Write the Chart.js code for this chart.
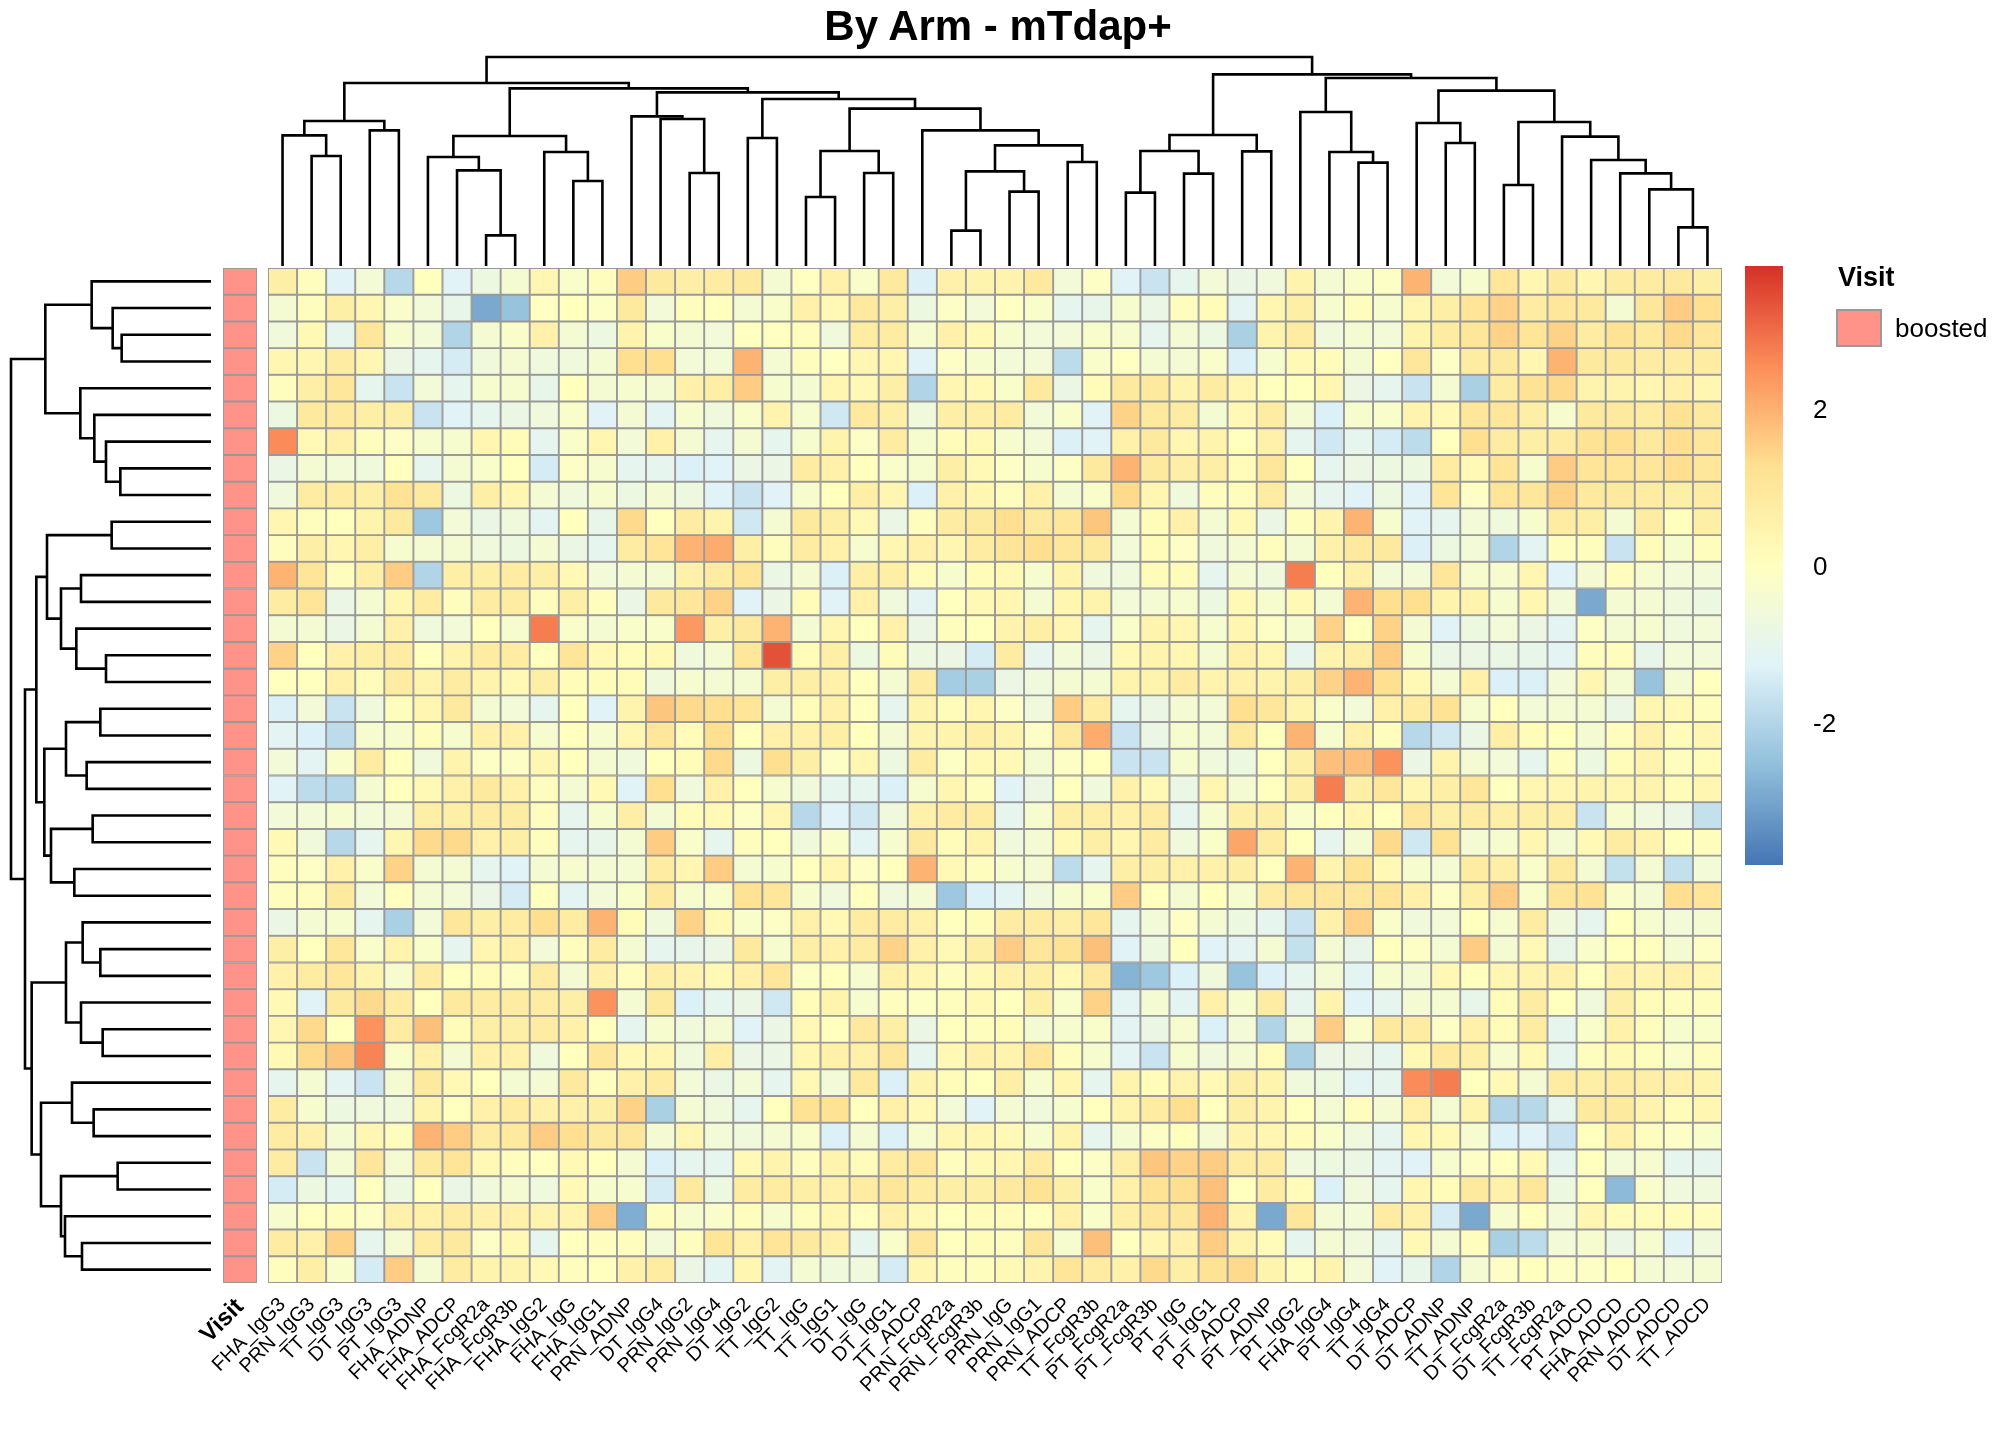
<!DOCTYPE html>
<html>
<head>
<meta charset="utf-8">
<script src="https://cdn.jsdelivr.net/npm/chart.js@4.4.1/dist/chart.umd.min.js"></script>
<style>
  body { margin: 0; background: #fff; }
  #page { position: relative; width: 2016px; height: 1440px; overflow: hidden; font-family: "Liberation Sans", Arial, sans-serif; }
  canvas { position: absolute; left: 0; top: 0; }
  #title { position: absolute; left: 0; width: 1996px; top: 2px; text-align: center; font-weight: bold; font-size: 42px; }
  #legTitle { position: absolute; left: 1838px; top: 262px; font-weight: bold; font-size: 27px; }
  #legBox { position: absolute; left: 1836px; top: 309px; width: 46px; height: 38px; background: #FF9289; border: 2px solid #999; box-sizing: border-box; }
  #legText { position: absolute; left: 1895px; top: 313px; font-size: 26px; }
</style>
</head>
<body>
<div id="page">
  <canvas id="heat" width="2016" height="1440"></canvas>
  <canvas id="annot" width="2016" height="1440"></canvas>
  <canvas id="topTree" width="2016" height="1440"></canvas>
  <canvas id="leftTree" width="2016" height="1440"></canvas>
  <canvas id="colorbar" width="2016" height="1440"></canvas>
  <div id="title">By Arm - mTdap+</div>
  <div id="legTitle">Visit</div>
  <div id="legBox"></div>
  <div id="legText">boosted</div>
</div>
<script>
// column labels, in dendrogram order
const colLabels = ['FHA_IgG3','PRN_IgG3','TT_IgG3','DT_IgG3','PT_IgG3','FHA_ADNP','FHA_ADCP','FHA_FcgR2a','FHA_FcgR3b','FHA_IgG2',
  'FHA_IgG','FHA_IgG1','PRN_ADNP','DT_IgG4','PRN_IgG2','PRN_IgG4','DT_IgG2','TT_IgG2','TT_IgG','TT_IgG1',
  'DT_IgG','DT_IgG1','TT_ADCP','PRN_FcgR2a','PRN_FcgR3b','PRN_IgG','PRN_IgG1','PRN_ADCP','TT_FcgR3b','PT_FcgR2a',
  'PT_FcgR3b','PT_IgG','PT_IgG1','PT_ADCP','PT_ADNP','PT_IgG2','FHA_IgG4','PT_IgG4','TT_IgG4','DT_ADCP',
  'DT_ADNP','TT_ADNP','DT_FcgR2a','DT_FcgR3b','TT_FcgR2a','PT_ADCD','FHA_ADCD','PRN_ADCD','DT_ADCD','TT_ADCD'];

// scaled values, one array per sample row (top to bottom)
const heat = [
 [0.7,0.1,-1.2,-0.5,-1.9,0.05,-1.2,-0.7,-0.4,0.4,-0.2,0.1,1.6,0.9,0.7, 0.8,0.9,-0.4,0,0.6,-0.2,0.9,-1.3,0.6,0.5,0.5,0.9,-0.5,-0.1,-1.2,-1.6,-1.0,-0.5, -0.8,-0.6,0.5,-0.4,-0.2,-0.1,2.0,-0.5,-0.3,1.0,0.4,0.9,0.4,0.8,0.8,0.9,0.7],
 [-0.4,0.1,0.7,0.4,-0.2,-0.5,-0.9,-2.9,-2.4,0,0.05,-0.1,0.9,-0.5,0.1, 0.05,-0.4,-0.2,0.6,0.3,0.9,0.7,-0.7,-0.1,-0.5,0,-0.2,-1.0,-0.9,-0.3,-0.8,0.1,0.2, -1.1,0.4,0.7,-0.3,0.1,-0.3,0.4,0.7,1.1,1.5,0.8,1.0,0.9,-0.4,1.0,1.6,1.3],
 [-0.6,0.3,-1.0,1.0,-0.3,-0.5,-2.0,-0.4,-0.2,0.6,-0.4,-0.7,0.5,-0.2,-0.4, -0.5,0,0,0.1,-0.6,0.8,0.8,-0.3,0.6,0.3,-0.3,-0.5,-0.5,-0.2,-0.3,-1.0,-0.4,-0.7, -2.1,0.5,0.8,-0.6,-0.4,-0.5,0.5,0.8,1.0,1.5,1.1,1.5,0.8,1.2,0.9,1.4,1.0],
 [0.4,0.4,0.8,0.4,-0.8,-1.0,-1.4,-0.6,-0.4,-0.6,-0.6,-0.4,1.3,1.3,-0.5, -0.5,2.0,-0.4,0.1,0,0.4,0.4,-1.2,-0.1,-0.3,-0.5,-0.5,-1.8,-0.2,0,-0.4,-0.4,-0.2, -1.3,-0.3,0.3,0.2,-0.4,0,1.0,-0.1,0.8,0.9,0.4,2.0,0.9,0.9,0.8,0.8,0.8],
 [0.1,0.7,1.0,-1.0,-1.6,-0.5,-1.0,-0.3,-0.3,-0.9,0.05,-0.4,-0.3,-0.4,0.6, 0.7,1.6,-0.3,-0.4,0.4,0.3,0.7,-2.0,0.4,0.3,-0.2,0.9,-0.8,0.2,0.9,0.9,0.5,0.8, 0.4,0.05,0.05,0.4,-0.8,-1.0,-1.6,-0.4,-2.1,0.8,1.2,1.4,0.5,0.5,0.4,0.6,0.4],
 [-0.7,0.9,0.9,0.7,0.7,-1.6,-1.2,-1.0,-0.8,-0.6,-0.2,-1.2,-0.4,-1.1,-0.3, -0.6,-0.2,0.5,-0.3,-1.5,0.9,0.7,-0.6,0.7,0.7,0.8,-0.5,-0.2,-1.2,1.5,0.9,0.8,-0.4, 0.3,0.8,-0.4,-1.3,-0.3,-0.2,0.5,0.3,1.0,1.0,0.7,-0.3,0.9,0.9,0.8,1.2,0.9],
 [2.6,0.3,0.6,0.1,-0.1,-0.3,-0.3,0.4,0.2,-1.0,-0.2,0.4,-0.5,0.6,-0.4, -1.0,-0.4,-1.0,-0.3,0.5,-0.1,0.8,-0.3,0.2,0.3,-0.3,-0.5,-1.3,-1.2,0.6,0.9,0.4,0.5, 0.05,0.6,-1.0,-1.5,-1.0,-1.4,-1.8,0.05,1.3,0.8,0.7,0.8,1.2,1.3,0.9,1.3,1.0],
 [-0.8,-0.4,-0.5,-0.6,0.05,-1.0,-0.4,-0.2,0.05,-1.4,-0.1,-0.3,-1.0,-1.0,-1.3, -1.2,-0.8,-0.8,0.8,0.6,0.05,-0.2,-0.3,0.7,0.3,-0.1,-0.3,-0.1,0.9,2.0,0.9,0.7,0.7, 0.2,1.0,0.05,-1.0,-0.8,-0.7,-0.7,0.8,0.3,1.1,-0.3,1.6,1.1,1.1,1.0,1.3,1.0],
 [-0.6,0.8,0.8,0.7,1.2,0.9,-0.7,0.7,0.4,-0.4,-0.6,-0.3,-0.7,-0.4,-0.7, -1.2,-1.6,-1.2,-0.3,0.05,0.7,0.4,-1.3,0.6,0.4,0.1,0.6,-0.4,-0.2,1.4,0.4,-0.6,0.1, 0.1,0.8,-0.5,-1.0,-1.2,-0.7,-1.2,1.1,-0.1,1.1,1.0,1.5,0.9,0.9,0.8,0.7,0.8],
 [0.4,0.1,0.05,0.5,0.9,-2.3,-0.5,-0.8,-0.6,-1.1,0.05,-0.9,1.4,0.05,0.8, 0.5,-1.5,-0.4,0.9,0.7,0.3,-0.8,0.1,0.8,0.9,1.3,0.9,1.0,1.7,-0.4,0.2,0.6,-0.4, 0.3,-0.8,0.1,0.5,2.0,-0.3,-1.2,-1.0,-0.5,-0.6,-0.3,0.8,0.7,-0.4,0.8,0.05,0.7],
 [0.1,0.7,0.4,0.7,-0.3,-0.4,-0.4,-0.6,-0.7,-0.4,-0.8,-1.0,0.8,1.1,2.0, 2.1,0.7,0.1,0.8,0.6,-0.3,0.4,0.6,0.4,0.8,1.1,1.3,1.0,0.9,-0.5,0.2,-0.1,-0.6, -0.4,0.1,-0.4,0.6,0.9,0.9,-1.3,-0.7,-0.5,-2.0,-1.1,0.1,0.1,-1.6,0.2,-0.3,0.1],
 [2.0,1.1,0.1,0.7,1.6,-2.0,0.7,0.7,0.8,0.7,0.3,-0.5,-0.4,-0.4,0.6, 0.8,1.1,-0.8,-0.4,-1.3,0.7,0.7,0.2,-0.3,0.2,0.3,-0.3,0.5,-0.6,-0.6,0.2,0.2,-1.0, -0.4,-0.6,2.8,0.05,0.6,-0.5,-0.5,1.0,-0.3,-0.3,0.4,-1.2,-0.4,0.1,-0.3,-0.5,-0.5],
 [0.8,1.1,-0.8,-0.4,0.4,0.8,0.1,0.8,0.8,0.1,0.7,0.1,-0.8,0.9,1.0, 1.5,-1.2,-0.8,0.2,-1.2,0.6,-0.6,-1.1,0.05,0.3,0.4,-0.4,0.4,0.5,-0.5,-0.4,-0.3,-0.7, 0.3,-0.3,0.3,-0.4,2.0,1.3,1.3,0.5,0.5,-0.3,0.4,-0.5,-2.9,-0.4,-0.4,-0.6,-0.7],
 [-0.4,-0.4,-0.8,-0.4,0.6,-0.6,-0.5,0.05,-0.3,2.8,-0.2,-0.4,-0.2,-0.2,2.4, 0.7,0.9,2.0,-0.4,0.4,0.05,0.6,-0.8,0.1,0.05,0.5,0.7,0.4,-1.0,-0.2,0.5,0.4,-0.3, 0.4,-0.1,-0.3,1.5,0.05,1.5,-0.4,-1.2,-0.7,-0.5,-0.8,-1.1,-0.1,-0.4,-0.3,-0.6,-0.5],
 [1.5,0.05,0.6,0.7,0.8,0.05,0.5,0.8,0.8,0.05,1.1,0.3,0.2,0.3,-0.6, -0.4,1.0,3.4,0.2,0.7,-0.7,0.2,-0.7,-0.8,-1.4,0.8,-1.0,-0.5,-0.8,0.3,0.5,0.4,-0.4, 0.6,0.4,-1.0,0.5,0.7,1.6,-0.3,-0.8,-0.8,-0.8,-0.9,-1.1,0.1,0.1,-0.9,-0.5,-0.5],
 [0.05,0.05,0.6,0.2,0.8,0.5,0.8,0.5,0.3,0.7,0.2,0.2,0.2,-0.6,-0.3, -0.4,-0.4,0.7,0.7,0.6,0.05,-0.4,0.8,-2.2,-2.1,-0.8,-0.6,-0.4,-0.4,0.5,0.5,0.8,0.5, 0.6,0.5,0.7,1.5,2.0,1.3,0.3,-0.4,0.6,-1.3,-1.3,-0.5,0.4,-0.4,-2.4,-0.4,0.05],
 [-1.3,-0.5,-1.6,-0.6,0.1,0.4,0.9,-0.4,-0.5,-1.0,0.05,-1.2,0.5,1.7,1.4, 1.3,1.1,-0.4,0.2,0.6,0.05,-1.0,0.5,0.2,0.4,-0.1,-0.6,1.6,0.8,-1.0,-0.8,-0.4,-0.5, 1.3,1.0,0.5,-0.2,-0.5,0.6,0.8,1.2,-0.3,0.05,-0.5,-0.4,-0.4,-0.8,0.4,0.3,0.1],
 [-1.1,-1.3,-1.8,-0.3,-0.3,0.1,-0.3,0.6,0.6,-0.3,0.05,-0.3,0.4,1.0,0.2, 1.3,0.05,0.6,0.6,0.7,0.05,-0.4,0.5,0.5,0.7,0.5,-0.1,0.9,2.1,-1.6,-0.8,-0.3,-0.5, 0.9,0.05,2.0,-0.3,0.6,0.1,-1.9,-1.5,-0.8,0.7,0.2,0.05,-0.4,0.1,0.6,0.2,0.4],
 [-0.5,-1.1,-0.2,0.8,0.05,-0.6,0.5,-0.1,-0.1,0.4,0.05,-0.4,-0.6,0.05,0.2, 1.4,-0.7,1.3,0.7,-0.1,0.4,-0.7,0.8,-0.05,0.3,0.3,-0.4,-0.1,0.05,-1.6,-1.6,-0.3,-0.6, -0.7,0.05,0.7,1.8,1.8,2.5,-0.8,0.5,-0.4,-0.5,-1.0,0.1,-0.7,0.2,0.5,0.1,0.2],
 [-1.2,-1.8,-1.9,-0.4,0.05,0.3,0.6,0.9,0.6,0.1,-0.4,0.3,-1.2,1.3,-0.6, 0.6,0.05,-0.3,-0.6,-1.0,-1.0,-1.3,-0.3,0.4,0.1,-1.2,-0.8,0.05,-0.6,0.6,0.3,-0.8,0.4, -0.4,0.05,0.7,2.8,0.7,1.0,0.4,0.7,1.0,0.05,0.4,0.4,0.5,0.4,0.5,0.2,0.4],
 [-0.5,-0.5,-0.3,-0.5,-0.4,0.7,0.7,0.8,0.8,0.1,-1.0,-0.3,0.7,-0.4,0.2, 0.3,-0.1,0.4,-1.9,-1.2,-1.5,-0.6,0.6,0.8,0.8,-1.0,-0.3,0.7,0.7,0.6,0.8,-1.0,-0.3, 0.7,0.7,-0.2,0.05,0.4,0.05,1.0,0.7,0.8,0.7,0.7,0.7,-1.6,-0.3,-0.6,-0.8,-1.7],
 [0.3,-0.6,-1.9,-1.0,0.4,1.4,1.4,0.6,0.7,0.1,-1.0,-0.9,-0.4,1.6,-0.2, -1.0,0.1,0.05,-0.6,-0.2,-1.1,-0.3,0.9,0.2,0.5,-0.6,-0.4,0.3,0.7,0.4,0.8,-0.6,-0.2, 2.2,0.8,0.05,-1.0,-0.4,1.4,-1.5,1.2,-0.4,-0.3,0.4,-0.4,0.3,0.8,0.5,0.05,0.1],
 [0.1,-0.1,0.6,-0.2,1.5,-0.4,-0.4,-1.0,-1.2,-0.4,-0.3,-0.4,-0.4,0.8,0.4, 1.6,-0.4,-0.3,0.05,0.4,-0.05,0.05,2.0,0.3,0.1,-0.3,-0.4,-1.8,-1.0,0.7,0.7,0.6,0.6, 0.7,0.05,2.0,0.5,1.2,0.3,-0.3,-0.4,0.8,0.7,-0.2,0.9,-0.4,-1.7,-0.4,-1.7,-0.5],
 [0.1,0.1,0.9,-0.5,0.05,-0.4,-0.5,-0.8,-1.4,0.05,-1.1,-0.5,-0.2,0.9,-0.3, -0.2,1.2,1.0,-0.3,-0.6,0.05,-0.6,-0.4,-2.3,-1.3,-1.1,-0.6,-0.3,-0.2,1.6,0.05,-0.4,0.05, -0.3,0.8,1.0,1.0,1.0,1.1,0.6,-0.1,0.7,1.6,-0.2,1.1,1.2,-0.2,-0.4,1.3,1.1],
 [-0.8,-0.4,-0.3,-1.0,-2.1,-0.5,1.0,0.7,0.8,1.3,0.8,2.0,0.2,-0.6,1.5, 0.3,-0.2,-0.1,0.6,0.3,0.8,0.8,0.6,0.05,0.2,0.8,0.8,0.7,1.0,-1.0,-0.5,-0.1,-0.4, -0.7,-1.0,-1.6,0.6,1.5,-0.2,-0.6,-0.5,0.05,-0.3,0.8,-0.6,-1.0,0.05,-0.3,-0.5,-0.4],
 [0.7,0.05,1.0,-0.2,0.5,-0.2,-1.0,0.4,0.6,-0.5,0.1,0.8,-0.4,-1.0,-0.9, -0.8,0.9,-0.3,0.7,0.6,0.8,1.5,0.6,0.3,0.7,1.6,1.0,1.2,1.8,-1.2,-0.7,0.05,-1.2, -1.1,-0.4,-1.7,-0.4,-0.9,0.05,-0.1,-0.4,1.6,-0.4,0.3,-0.9,-0.2,0.05,0.05,-0.4,-0.1],
 [0.6,0.8,1.0,0.5,-0.3,0.8,0.05,0.2,-0.05,0.8,-0.4,0.6,0.1,0.7,0.5, 0.3,0.6,1.0,-0.1,0.05,-0.3,0.6,0.4,0.1,0.3,0.6,0.7,0.3,0.9,-2.7,-2.3,-1.3,-0.6, -2.4,-1.3,-1.0,-0.4,-1.1,-0.3,-0.4,0.3,0.05,0.4,0.5,0.6,0.05,0.6,0.5,0.6,0.4],
 [0.3,-1.2,0.9,1.4,0.8,0.05,0.9,0.8,0.8,0.8,0.7,2.5,-0.4,0.9,-1.3, -1.0,-0.8,-1.5,0.2,0.5,-0.3,0.1,-0.05,0.1,0.3,0.05,0.7,-0.2,1.5,-1.1,-0.4,-1.1,0.6, -0.3,0.8,-1.0,0.5,-1.2,-1.0,-0.4,-0.4,-0.9,0.2,0.8,0.05,-0.6,0.7,0.2,0.1,0.1],
 [0.4,1.4,0.05,2.5,0.8,1.8,0.2,0.7,0.7,0.8,0.6,0.05,-1.0,-0.3,-0.6, -0.4,-1.2,-0.8,0.3,0.05,0.9,0.7,-0.8,0.05,0.1,0.2,-0.4,-0.3,-0.2,-1.1,-0.8,-0.3,-1.3, -0.5,-2.0,-0.5,1.6,-0.2,0.9,0.8,-0.1,0.6,0.2,0.8,-1.0,-0.2,0.6,0.1,-0.3,-0.2],
 [0.3,1.4,1.7,2.7,-0.2,0.6,-0.4,0.6,0.6,-0.6,0.05,1.0,0.3,0.4,-0.6, 0.7,-0.8,-0.8,0.4,0.6,0.6,1.0,-1.0,0.3,0.6,0.5,1.0,0.1,-0.3,-1.1,-1.6,-0.3,-0.6, -0.4,0.2,-2.1,-0.8,-0.8,-1.0,0.3,0.9,0.7,-0.3,0.3,-1.0,0.1,0.3,0.1,-0.2,0.1],
 [-1.0,-0.4,-1.1,-1.6,-0.4,0.9,0.3,0.05,-0.4,-0.4,0.9,0.1,0.6,0.8,-0.5, -0.8,-0.5,-1.0,0.3,-0.5,0.9,-1.3,0.5,0.2,0.05,0.7,-0.3,0.4,-1.0,0.5,0.2,0.5,0.3, 0.7,0.5,-0.6,-0.7,-1.1,-1.0,2.6,2.8,0.05,0.3,-0.4,0.8,0.7,0.8,0.7,0.6,0.5],
 [0.8,-0.3,-0.7,-0.6,-0.6,0.5,0.05,0.6,0.8,0.6,0.6,0.7,1.5,-2.1,-0.4, -0.6,-1.0,0.05,1.2,1.2,0.05,0.6,0.3,-0.5,-1.2,-0.4,-0.6,-0.3,0.05,0.5,0.8,1.3,0.05, 0.7,0.5,0.05,-0.4,0.1,-0.4,0.6,-0.4,0.5,-2.0,-1.9,-1.0,0.9,0.9,0.5,0.2,0.4],
 [0.8,0.6,-0.4,0.4,0.1,2.0,1.6,0.8,0.9,1.6,1.3,0.9,1.0,-0.4,0.4, -0.5,-0.6,-0.4,-0.2,-1.3,-0.4,-1.3,-0.3,0.4,0.4,0.3,-0.3,0.5,-1.0,-0.4,-0.1,0.05,-0.4, 0.5,0.4,0.2,-0.2,-0.6,-1.0,0.4,0.3,-0.3,-1.3,-1.2,-1.6,0.05,0.6,0.1,-0.1,-0.2],
 [0.8,-1.6,-0.4,1.0,-0.4,0.9,1.1,0.3,0.1,0.05,0.3,0.05,-0.4,-1.3,-1.0, -1.0,0.3,0.5,0.1,0.5,0.2,0.8,1.0,0.1,0.3,0.4,0.8,0.05,-0.1,0.7,1.7,1.5,1.6, 0.8,0.8,-0.6,-0.7,-0.8,-1.1,-1.2,-0.3,-0.1,0.05,0.3,-1.0,0.05,-0.5,-0.3,-1.0,-1.0],
 [-1.4,-0.7,-1.0,0.05,-0.7,0.05,-0.8,-0.6,-0.4,-0.6,0.3,-0.3,-0.3,-1.4,0.9, -0.7,0.8,0.8,0.7,0.6,0.8,1.0,0.8,0.7,0.7,0.9,1.2,0.7,-0.2,0.6,1.2,1.3,1.8, 0.05,0.8,0.2,-1.3,-0.6,-1.0,0.4,0.2,0.9,0.6,1.0,-0.7,0.05,-2.6,-0.2,-0.6,-0.6],
 [-0.3,0.05,0.1,-0.1,0.6,0.6,0.8,0.6,0.6,0.5,0.5,1.6,-2.8,0.1,-0.3, -0.2,0.1,-0.3,0.1,0.4,0.05,0.6,0.3,0.05,0.2,0.2,0.05,0.6,-0.2,0.7,1.0,1.0,2.0, 0.5,-2.9,1.0,-0.4,-0.5,0.8,0.6,-1.4,-2.9,-0.3,0.05,-0.5,0.4,0.2,0.2,0.2,0.1],
 [0.8,0.6,1.5,-1.0,-0.4,0.8,0.9,-0.1,0.3,-1.0,0.05,0.1,0.1,-0.5,0.1, 1.1,0.6,1.1,0.9,0.6,-1.0,-0.2,1.0,0.05,0.2,0.1,1.0,-0.3,1.8,0.05,0.4,0.6,1.6, 0.5,0.2,-1.0,-0.4,-0.6,-1.0,0.3,-0.4,0.1,-2.1,-1.8,-0.5,-0.3,-0.8,-0.3,-1.2,-0.6],
 [0.1,0.7,-0.2,-1.4,1.6,-0.4,0.8,0.5,0.5,0.3,0.1,0.05,0.6,0.8,-0.8, -1.1,0.4,-1.1,-0.4,-0.6,-0.6,-1.4,0.4,0.1,0.1,0.3,0.5,1.1,0.8,0.6,1.4,0.7,1.2, 1.4,0.5,0.1,0.5,-0.5,-1.2,-0.9,-2.0,-0.4,-0.1,0.05,-0.1,-0.1,0.05,-0.4,-0.5,-0.4]
];

// dendrograms: [left, right, mergeHeight], leaves are 1-based positions
const colTree = [
  [[[1,[2,3,330],392],[4,5,407],435],
   [[[6,[7,[8,9,92],287],327],[10,[11,12,255],342],390],
    [[13,[14,[15,16,279],441],449],
     [[17,18,384],
      [[[19,20,207],[21,22,279],345],
       [23,[[[24,25,106],[26,27,223],284],[28,29,312],362],407],472],501],521],533],549],
  [[[[30,31,220],[32,33,277],345],[34,35,344],393],
   [[36,[37,[38,39,310],342],462],
    [[40,[41,42,369],429],
     [[43,44,243],[45,[46,[47,[48,[49,50,116],230],278],318],388],432],526],564],575],
  627];
const rowTree = [
  [[1,[2,[3,4,268],295],358],[5,[6,[7,[8,9,272],315],350],392],497],
  [[[[10,11,298],[[12,13,390],[14,[15,16,315],404],450],492],
    [[[17,18,332],[19,20,373],435],[[21,22,355],[23,24,410],480],500],524],
   [[[25,[26,27,332],385],[28,[29,30,325],390],435],
    [[31,[32,33,352],417],[[34,35,280],[36,[37,38,387],438],450],510],538],558],
  600];

const visit = 'boosted';
const legendTicks = [-2, 0, 2];
const scaleMin = -3.78, scaleMax = 3.85;
const palette = ['#4575B4','#91BFDB','#E0F3F8','#FFFFBF','#FEE090','#FC8D59','#D73027'];

Chart.defaults.font.family = '"Liberation Sans", Arial, sans-serif';
Chart.defaults.color = '#000';
const W = 2016, H = 1440;

function hex(c) { return [1,3,5].map(i => parseInt(c.substr(i,2),16)); }
function colorFor(v) {
  let t = (v - scaleMin) / (scaleMax - scaleMin) * (palette.length - 1);
  t = Math.max(0, Math.min(palette.length - 1.0001, t));
  const i = Math.floor(t), f = t - i;
  const a = hex(palette[i]), b = hex(palette[i+1]);
  const m = a.map((x, k) => Math.round(x + (b[k]-x)*f));
  return `rgb(${m[0]},${m[1]},${m[2]})`;
}

// heatmap as stacked bars, one dataset per row
const heatSets = heat.map((row, r) => ({
  data: row.map(() => 1),
  backgroundColor: row.map(colorFor),
  borderColor: '#999',
  borderWidth: 1.3,
  borderSkipped: false,
  barPercentage: 1,
  categoryPercentage: 1
}));

new Chart(document.getElementById('heat'), {
  type: 'bar',
  data: { labels: colLabels, datasets: heatSets },
  options: {
    responsive: false, animation: false, devicePixelRatio: 1,
    layout: { padding: { left: 268, right: W - 1722, top: 268, bottom: 7 } },
    plugins: { legend: { display: false }, tooltip: { enabled: false } },
    scales: {
      x: { stacked: true, grid: { display: false }, border: { display: false },
           ticks: { minRotation: 45, maxRotation: 45, autoSkip: false, padding: 2, font: { size: 20 } },
           afterFit: s => { s.height = 150; } },
      y: { stacked: true, display: false, min: 0, max: heat.length, reverse: true }
    }
  }
});

// annotation column
new Chart(document.getElementById('annot'), {
  type: 'bar',
  data: { labels: ['Visit'], datasets: heat.map(() => ({
    data: [1], backgroundColor: '#FF9289', borderColor: '#999', borderWidth: 1.3,
    borderSkipped: false, barPercentage: 1, categoryPercentage: 1, label: visit })) },
  options: {
    responsive: false, animation: false, devicePixelRatio: 1,
    layout: { padding: { left: 223, right: W - 257, top: 268, bottom: 7 } },
    plugins: { legend: { display: false }, tooltip: { enabled: false } },
    scales: {
      x: { stacked: true, grid: { display: false }, border: { display: false },
           ticks: { minRotation: 45, maxRotation: 45, padding: 2, font: { size: 24, weight: 'bold' } },
           afterFit: s => { s.height = 150; } },
      y: { stacked: true, display: false, min: 0, max: heat.length, reverse: true }
    }
  }
});

// dendrogram segments
function treeSets(tree, horizontal) {
  const sets = [];
  function walk(n) {
    if (typeof n === 'number') return { p: n - 0.5, h: 0 };
    const a = walk(n[0]), b = walk(n[1]), h = n[2];
    const pts = [[a.p, a.h], [a.p, h], [b.p, h], [b.p, b.h]];
    sets.push({
      data: pts.map(([p, v]) => horizontal ? { x: v, y: p } : { x: p, y: v }),
      showLine: true, borderColor: '#000', borderWidth: 2.6, pointRadius: 0, tension: 0
    });
    return { p: (a.p + b.p) / 2, h };
  }
  walk(tree);
  return sets;
}

new Chart(document.getElementById('topTree'), {
  type: 'scatter',
  data: { datasets: treeSets(colTree, false) },
  options: {
    responsive: false, animation: false, devicePixelRatio: 1,
    layout: { padding: { left: 268, right: W - 1722, top: 46, bottom: H - 266 } },
    plugins: { legend: { display: false }, tooltip: { enabled: false } },
    scales: {
      x: { display: false, min: 0, max: colLabels.length },
      y: { display: false, min: 0, max: 660 }
    }
  }
});

new Chart(document.getElementById('leftTree'), {
  type: 'scatter',
  data: { datasets: treeSets(rowTree, true) },
  options: {
    responsive: false, animation: false, devicePixelRatio: 1,
    layout: { padding: { left: 0, right: W - 211, top: 268, bottom: H - 1283 } },
    plugins: { legend: { display: false }, tooltip: { enabled: false } },
    scales: {
      x: { display: false, min: 0, max: 633, reverse: true },
      y: { display: false, min: 0, max: heat.length, reverse: true }
    }
  }
});

// colour key
new Chart(document.getElementById('colorbar'), {
  type: 'bar',
  data: { labels: ['key'], datasets: [{
    data: [[scaleMin, scaleMax]],
    backgroundColor: ctx => {
      const area = ctx.chart.chartArea;
      if (!area) return palette[3];
      const g = ctx.chart.ctx.createLinearGradient(0, area.bottom, 0, area.top);
      palette.forEach((c, i) => g.addColorStop(i / (palette.length - 1), c));
      return g;
    },
    borderWidth: 0, barPercentage: 1, categoryPercentage: 1 }] },
  options: {
    responsive: false, animation: false, devicePixelRatio: 1,
    layout: { padding: { left: 1745, right: W - 1783 - 80, top: 266, bottom: H - 865 } },
    plugins: { legend: { display: false }, tooltip: { enabled: false } },
    scales: {
      x: { display: false },
      y: { position: 'right', min: scaleMin, max: scaleMax,
           grid: { display: false }, border: { display: false },
           afterBuildTicks: s => { s.ticks = legendTicks.map(v => ({ value: v })); },
           ticks: { padding: 22, font: { size: 26 } },
           afterFit: s => { s.width = 80; } }
    }
  }
});
</script>
</body>
</html>
